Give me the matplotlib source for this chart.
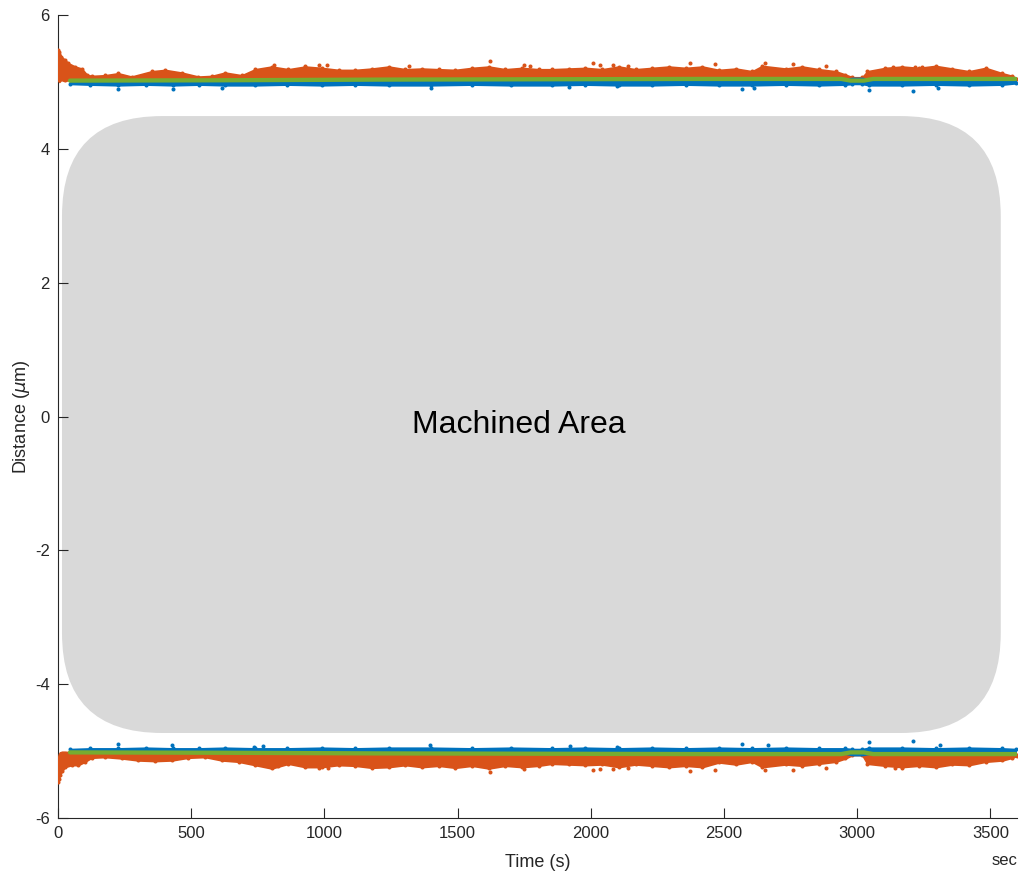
import matplotlib
matplotlib.use("Agg")
import matplotlib.pyplot as plt
from matplotlib.patches import FancyBboxPatch

plt.rcParams['font.family'] = ['Liberation Sans', 'DejaVu Sans']
plt.rcParams['axes.unicode_minus'] = False

ORANGE = '#D95319'
BLUE = '#0072BD'
GREEN = '#77AC30'

# ---- upper edge (+5 um) ----
t_up = [0, 5, 12, 26, 39, 64, 89, 108, 126, 176, 226, 276, 352, 402, 464, 527,
        577, 627, 690, 740, 802, 865, 928, 990, 1053, 1116, 1178, 1241, 1304,
        1366, 1429, 1491, 1554, 1617, 1679, 1742, 1804, 1854, 1917, 1980, 2043,
        2105, 2168, 2230, 2293, 2356, 2419, 2481, 2544, 2606, 2644, 2731, 2794,
        2857, 2919, 2956, 2982, 3019, 3038, 3106, 3169, 3231, 3294, 3357, 3420,
        3482, 3545, 3582, 3600]
orange_up_hi = [5.48, 5.45, 5.38, 5.33, 5.28, 5.23, 5.20, 5.11, 5.09, 5.10, 5.13,
                5.08, 5.16, 5.18, 5.14, 5.08, 5.09, 5.14, 5.10, 5.19, 5.23, 5.19,
                5.23, 5.21, 5.18, 5.18, 5.20, 5.23, 5.19, 5.20, 5.19, 5.18, 5.21,
                5.23, 5.19, 5.21, 5.19, 5.19, 5.20, 5.21, 5.19, 5.23, 5.19, 5.21,
                5.23, 5.21, 5.23, 5.18, 5.20, 5.16, 5.24, 5.20, 5.23, 5.19, 5.16,
                5.11, 5.07, 5.07, 5.16, 5.21, 5.23, 5.21, 5.24, 5.20, 5.16, 5.21,
                5.13, 5.09, 5.05]
orange_up_lo = [5.02, 5.00, 5.03, 5.01, 5.03, 5.03, 5.03, 5.03, 5.03, 5.03, 5.03,
                5.03, 5.03, 5.03, 5.03, 5.03, 5.03, 5.03, 5.03, 5.03, 5.03, 5.03,
                5.03, 5.03, 5.03, 5.04, 5.04, 5.04, 5.04, 5.04, 5.04, 5.04, 5.04,
                5.04, 5.04, 5.04, 5.04, 5.04, 5.04, 5.04, 5.04, 5.04, 5.04, 5.04,
                5.04, 5.04, 5.04, 5.04, 5.04, 5.04, 5.04, 5.04, 5.04, 5.04, 5.04,
                5.04, 5.05, 5.05, 5.04, 5.04, 5.04, 5.04, 5.04, 5.04, 5.04, 5.04,
                5.04, 5.04, 5.04]

t_blue = [45, 120, 226, 330, 433, 530, 627, 740, 860, 990, 1116, 1241, 1400,
          1554, 1700, 1854, 1980, 2105, 2230, 2356, 2481, 2606, 2731, 2857,
          2956, 2982, 3019, 3044, 3169, 3294, 3420, 3545, 3595]
blue_up_lo = [4.97, 4.96, 4.95, 4.96, 4.95, 4.96, 4.95, 4.95, 4.96, 4.95, 4.96,
              4.95, 4.95, 4.96, 4.95, 4.95, 4.96, 4.95, 4.95, 4.96, 4.95, 4.95,
              4.96, 4.95, 4.96, 4.97, 4.97, 4.95, 4.95, 4.96, 4.95, 4.96, 4.98]
blue_up_hi = [5.02, 5.02, 5.02, 5.02, 5.02, 5.02, 5.02, 5.03, 5.03, 5.03, 5.03,
              5.03, 5.03, 5.03, 5.03, 5.03, 5.03, 5.03, 5.03, 5.03, 5.03, 5.03,
              5.03, 5.03, 5.04, 5.06, 5.06, 5.04, 5.03, 5.03, 5.03, 5.03, 5.03]

t_green = [45, 600, 1200, 1800, 2400, 2940, 2975, 3025, 3060, 3595]
green_up = [5.02, 5.025, 5.035, 5.04, 5.045, 5.045, 5.02, 5.02, 5.045, 5.045]

orange_up_out_t = [810, 928, 978, 1010, 1316, 1623, 1748, 1773, 2007, 2033, 2082,
                   2139, 2372, 2466, 2654, 2760, 2884, 3134, 3217, 3245]
orange_up_out = [5.26, 5.24, 5.26, 5.25, 5.24, 5.31, 5.26, 5.24, 5.28, 5.25, 5.25,
                 5.24, 5.28, 5.27, 5.28, 5.27, 5.24, 5.23, 5.23, 5.23]
blue_up_out_t = [226, 433, 615, 1400, 1917, 2100, 2569, 2614, 3044, 3211, 3305]
blue_up_out = [4.90, 4.90, 4.91, 4.91, 4.93, 4.94, 4.90, 4.91, 4.88, 4.86, 4.91]

# ---- lower edge (-5 um) ----
t_lo = [0, 3, 7, 15, 26, 51, 76, 101, 126, 176, 239, 301, 364, 427, 489, 552,
        615, 678, 740, 802, 865, 928, 990, 1053, 1116, 1178, 1241, 1304, 1366,
        1429, 1491, 1554, 1617, 1679, 1742, 1804, 1854, 1917, 1980, 2043, 2105,
        2168, 2230, 2293, 2356, 2419, 2481, 2544, 2606, 2644, 2731, 2794, 2857,
        2919, 2956, 2982, 3019, 3038, 3106, 3169, 3231, 3294, 3357, 3420, 3482,
        3545, 3582, 3600]
orange_lo_lo = [-5.46, -5.42, -5.36, -5.30, -5.24, -5.21, -5.21, -5.16, -5.10,
                -5.09, -5.11, -5.14, -5.15, -5.14, -5.10, -5.09, -5.14, -5.16,
                -5.21, -5.26, -5.19, -5.24, -5.24, -5.21, -5.22, -5.25, -5.24,
                -5.21, -5.24, -5.22, -5.25, -5.22, -5.26, -5.22, -5.24, -5.22,
                -5.19, -5.20, -5.21, -5.20, -5.24, -5.20, -5.22, -5.24, -5.22,
                -5.24, -5.17, -5.20, -5.16, -5.24, -5.20, -5.22, -5.19, -5.16,
                -5.11, -5.06, -5.06, -5.19, -5.22, -5.24, -5.22, -5.24, -5.20,
                -5.21, -5.16, -5.14, -5.10, -5.07]
orange_lo_hi = [-5.10, -5.05, -5.02, -5.01, -5.01, -5.02, -5.03, -5.03, -5.03,
                -5.03, -5.03, -5.03, -5.03, -5.03, -5.03, -5.03, -5.03, -5.03,
                -5.03, -5.03, -5.03, -5.03, -5.03, -5.03, -5.04, -5.04, -5.04,
                -5.04, -5.04, -5.04, -5.04, -5.04, -5.04, -5.04, -5.04, -5.04,
                -5.04, -5.04, -5.04, -5.04, -5.04, -5.04, -5.04, -5.04, -5.04,
                -5.04, -5.04, -5.04, -5.04, -5.04, -5.04, -5.04, -5.04, -5.04,
                -5.04, -5.05, -5.05, -5.04, -5.04, -5.04, -5.04, -5.04, -5.04,
                -5.04, -5.04, -5.04, -5.04, -5.04]

blue_lo_hi = [-4.97, -4.96, -4.96, -4.95, -4.96, -4.96, -4.95, -4.96, -4.96,
              -4.95, -4.96, -4.95, -4.95, -4.96, -4.95, -4.96, -4.95, -4.96,
              -4.95, -4.96, -4.95, -4.96, -4.95, -4.96, -4.96, -4.97, -4.97,
              -4.95, -4.95, -4.96, -4.95, -4.96, -4.97]
blue_lo_lo = [-5.02, -5.02, -5.02, -5.02, -5.02, -5.02, -5.02, -5.03, -5.03,
              -5.03, -5.03, -5.03, -5.03, -5.03, -5.03, -5.03, -5.03, -5.03,
              -5.03, -5.03, -5.03, -5.03, -5.03, -5.03, -5.04, -5.06, -5.06,
              -5.04, -5.03, -5.03, -5.03, -5.03, -5.03]

green_lo = [-5.02, -5.025, -5.035, -5.04, -5.045, -5.045, -5.02, -5.02, -5.045, -5.045]

orange_lo_out_t = [827, 978, 1015, 1623, 1748, 2007, 2033, 2082, 2139, 2372, 2466,
                   2654, 2760, 2884, 3142, 3169]
orange_lo_out = [-5.23, -5.26, -5.26, -5.31, -5.27, -5.29, -5.27, -5.27, -5.26,
                 -5.30, -5.28, -5.29, -5.28, -5.26, -5.26, -5.26]
blue_lo_out_t = [226, 427, 734, 771, 1398, 1921, 2099, 2569, 2665, 3044, 3211, 3310]
blue_lo_out = [-4.90, -4.91, -4.94, -4.93, -4.91, -4.92, -4.94, -4.90, -4.91,
               -4.87, -4.85, -4.91]

# machined region and axis settings
REGION_T = (15, 3539)
REGION_D = (-4.73, 4.49)
LABEL_POS = (1728, -0.12)
x_ticks = [0, 500, 1000, 1500, 2000, 2500, 3000, 3500]
y_ticks = [-6, -4, -2, 0, 2, 4, 6]

fig = plt.figure(figsize=(10.21, 8.74), dpi=100)
ax = fig.add_axes([0.0568, 0.0641, 0.9393, 0.9187])
ax.set_xlim(0, 3600)
ax.set_ylim(-6, 6)

# rounded grey region, corner radius about 100 px in both directions
ax_w_px = 0.9393 * 1021
ax_h_px = 0.9187 * 874
sx = 3600 / ax_w_px
sy = 12 / ax_h_px
r_px = 100
box = FancyBboxPatch((REGION_T[0], REGION_D[0]), REGION_T[1] - REGION_T[0],
                     REGION_D[1] - REGION_D[0],
                     boxstyle=f"round,pad=0,rounding_size={r_px * sx}",
                     mutation_aspect=sy / sx, facecolor='#D9D9D9',
                     edgecolor='none', zorder=1)
ax.add_patch(box)
ax.text(LABEL_POS[0], LABEL_POS[1], 'Machined Area', fontsize=23,
        ha='center', va='center', color='black', zorder=2)

ms = 2.9
# upper band
ax.fill_between(t_up, orange_up_lo, orange_up_hi, color=ORANGE, lw=1.2, zorder=3)
ax.plot(t_up, orange_up_hi, 'o', color=ORANGE, ms=ms, mew=0, zorder=3)
ax.fill_between(t_blue, blue_up_lo, blue_up_hi, color=BLUE, lw=1.2, zorder=3)
ax.plot(t_blue, blue_up_lo, 'o', color=BLUE, ms=ms, mew=0, zorder=3)
ax.plot(orange_up_out_t, orange_up_out, 'o', color=ORANGE, ms=ms, mew=0, zorder=3)
ax.plot(blue_up_out_t, blue_up_out, 'o', color=BLUE, ms=ms, mew=0, zorder=3)
ax.plot(t_green, green_up, color=GREEN, lw=3.1, solid_capstyle='round', zorder=4)

# lower band
ax.fill_between(t_lo, orange_lo_lo, orange_lo_hi, color=ORANGE, lw=1.2, zorder=3)
ax.plot(t_lo, orange_lo_lo, 'o', color=ORANGE, ms=ms, mew=0, zorder=3)
ax.fill_between(t_blue, blue_lo_lo, blue_lo_hi, color=BLUE, lw=1.2, zorder=3)
ax.plot(t_blue, blue_lo_hi, 'o', color=BLUE, ms=ms, mew=0, zorder=3)
ax.plot(orange_lo_out_t, orange_lo_out, 'o', color=ORANGE, ms=ms, mew=0, zorder=3)
ax.plot(blue_lo_out_t, blue_lo_out, 'o', color=BLUE, ms=ms, mew=0, zorder=3)
ax.plot(t_green, green_lo, color=GREEN, lw=3.1, solid_capstyle='round', zorder=4)

# axes styling
for side in ('top', 'right'):
    ax.spines[side].set_visible(False)
for side in ('left', 'bottom'):
    ax.spines[side].set_color('#262626')
    ax.spines[side].set_linewidth(0.8)
ax.set_xticks(x_ticks)
ax.set_yticks(y_ticks)
ax.set_xticklabels([str(v) for v in x_ticks])
ax.set_yticklabels([str(v) for v in y_ticks])
ax.tick_params(direction='in', length=7, width=0.8, colors='#262626',
               labelsize=12, pad=6)
ax.set_xlabel('Time (s)', fontsize=13, color='#262626', labelpad=9)
ax.set_ylabel(r'Distance ($\mu$m)', fontsize=13, color='#262626', labelpad=2)
ax.text(1.0, -0.053, 'sec', transform=ax.transAxes, ha='right', va='center',
        fontsize=12, color='#262626')

fig.savefig('out.png', dpi=100)
